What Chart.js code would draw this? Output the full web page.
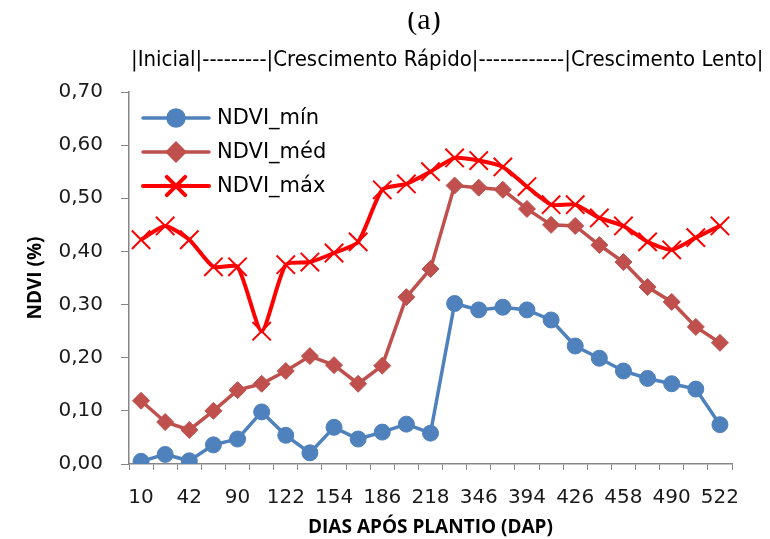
<!DOCTYPE html>
<html>
<head>
<meta charset="utf-8">
<script src="https://cdn.jsdelivr.net/npm/chart.js@4"></script>
<style>
html,body{margin:0;padding:0;background:#fff;}
#wrap{width:770px;height:539px;position:relative;}
</style>
</head>
<body>
<div id="wrap"><canvas id="c" width="770" height="539"></canvas></div>
<script>
const categories = ['10','26','42','74','90','106','122','138','154','170','186','202','218','330','346','378','394','410','426','442','458','474','490','506','522'];
const ndviMin = [0.005,0.018,0.006,0.036,0.047,0.098,0.054,0.021,0.069,0.047,0.060,0.075,0.058,0.302,0.290,0.295,0.290,0.271,0.222,0.199,0.175,0.161,0.151,0.141,0.074];
const ndviMed = [0.119,0.079,0.064,0.100,0.139,0.151,0.175,0.203,0.186,0.151,0.185,0.314,0.367,0.524,0.520,0.516,0.480,0.450,0.448,0.412,0.380,0.333,0.305,0.258,0.228];
const ndviMax = [0.422,0.448,0.422,0.371,0.371,0.250,0.375,0.380,0.397,0.418,0.516,0.527,0.550,0.576,0.571,0.559,0.522,0.488,0.488,0.463,0.448,0.418,0.403,0.426,0.448];
const yTicks = [0,0.1,0.2,0.3,0.4,0.5,0.6,0.7];
const titleText = '(a)';
const stageText = '|Inicial|---------|Crescimento Rápido|------------|Crescimento Lento|';

const textPlugin = {
  id: 'texts',
  afterDraw(chart) {
    const ctx = chart.ctx;
    ctx.save();
    ctx.beginPath();
    ctx.rect(0, 12, 770, 30);
    ctx.clip();
    ctx.fillStyle = '#000';
    ctx.font = '30px "Liberation Serif", serif';
    ctx.textAlign = 'center';
    ctx.textBaseline = 'alphabetic';
    ctx.fillText(titleText, 424, 29);
    ctx.restore();
    ctx.save();
    ctx.fillStyle = '#000';
    ctx.font = '22px "Liberation Sans Narrow", "DejaVu Sans Condensed", sans-serif';
    ctx.textAlign = 'left';
    ctx.textBaseline = 'middle';
    ctx.fillText(stageText, 131, 60, 635);
    ctx.restore();
  }
};

const legendPlugin = {
  id: 'innerLegend',
  afterDraw(chart) {
    const ctx = chart.ctx;
    const rows = [118, 152, 186];
    ctx.save();
    chart.data.datasets.forEach((ds, i) => {
      const y = rows[i];
      ctx.strokeStyle = ds.borderColor;
      ctx.lineWidth = ds.borderWidth;
      ctx.lineCap = 'round';
      ctx.beginPath();
      ctx.moveTo(143, y);
      ctx.lineTo(209, y);
      ctx.stroke();
      ctx.fillStyle = ds.pointBackgroundColor;
      ctx.strokeStyle = ds.pointBorderColor;
      Chart.helpers.drawPoint(ctx, {
        pointStyle: ds.pointStyle,
        radius: ds.pointRadius,
        rotation: 0,
        borderWidth: ds.pointBorderWidth
      }, 176, y);
      ctx.fillStyle = '#000';
      ctx.font = '21px "DejaVu Sans", sans-serif';
      ctx.textAlign = 'left';
      ctx.textBaseline = 'middle';
      ctx.fillText(ds.label, 217, y + 1);
    });
    ctx.restore();
  }
};

new Chart(document.getElementById('c'), {
  type: 'line',
  data: {
    labels: categories,
    datasets: [
      {
        label: 'NDVI_mín', data: ndviMin,
        borderColor: '#4F81BD', backgroundColor: '#4F81BD',
        borderWidth: 3.5, pointStyle: 'circle', pointRadius: 8,
        pointBackgroundColor: '#4F81BD', pointBorderColor: '#4F81BD', pointBorderWidth: 1,
        tension: 0
      },
      {
        label: 'NDVI_méd', data: ndviMed,
        borderColor: '#C0504D', backgroundColor: '#C0504D',
        borderWidth: 3.5, pointStyle: 'rectRot', pointRadius: 8.5,
        pointBackgroundColor: '#C0504D', pointBorderColor: '#C0504D', pointBorderWidth: 1,
        tension: 0
      },
      {
        label: 'NDVI_máx', data: ndviMax,
        borderColor: '#FF0000', backgroundColor: '#FF0000',
        borderWidth: 4, pointStyle: 'crossRot', pointRadius: 13,
        pointBackgroundColor: '#FF0000', pointBorderColor: '#FF0000', pointBorderWidth: 2,
        tension: 0.2
      }
    ]
  },
  options: {
    responsive: false,
    animation: false,
    layout: { padding: { left: 24, right: 38, top: 92, bottom: 0 } },
    plugins: {
      legend: { display: false },
      title: { display: false },
      tooltip: { enabled: false }
    },
    scales: {
      x: {
        type: 'category',
        offset: true,
        afterFit(scale) { scale.height = 75; },
        grid: { offset: true, drawOnChartArea: false, drawTicks: true, tickLength: 6, color: '#868686', lineWidth: 1 },
        border: { display: true, color: '#868686', width: 1.5 },
        ticks: {
          autoSkip: false, maxRotation: 0, minRotation: 0, padding: 16,
          color: '#1a1a1a',
          font: { family: '"DejaVu Sans", sans-serif', size: 20 },
          callback(value, index) { return index % 2 === 0 ? categories[index] : ''; }
        },
        title: {
          display: true, text: 'DIAS APÓS PLANTIO (DAP)', color: '#000',
          font: { family: '"Open Sans", sans-serif', size: 19, weight: 'bold' },
          padding: { top: 0, bottom: 0 }
        }
      },
      y: {
        min: 0, max: 0.7,
        afterFit(scale) { scale.width = 105; },
        afterBuildTicks(scale) { scale.ticks = yTicks.map(v => ({ value: v })); },
        grid: { drawOnChartArea: false, drawTicks: true, tickLength: 8, color: '#868686', lineWidth: 1 },
        border: { display: true, color: '#868686', width: 1.5 },
        ticks: {
          padding: 18, color: '#1a1a1a',
          font: { family: '"DejaVu Sans", sans-serif', size: 20 },
          callback(value) { return Number(value).toFixed(2).replace('.', ','); }
        },
        title: {
          display: true, text: 'NDVI (%)', color: '#000',
          font: { family: '"Open Sans", sans-serif', size: 19, weight: 'bold' },
          padding: { top: 0, bottom: 0 }
        }
      }
    }
  },
  plugins: [textPlugin, legendPlugin]
});
</script>
</body>
</html>
